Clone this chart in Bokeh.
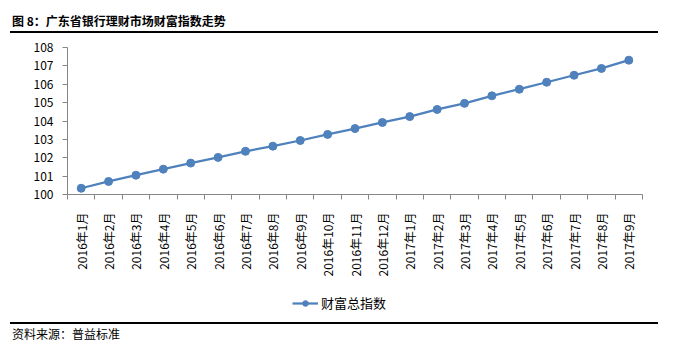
from math import pi
from bokeh.plotting import figure
from bokeh.models import Range1d, FixedTicker, Legend, LegendItem, ColumnDataSource, Div
from bokeh.layouts import column
from bokeh.embed import file_html
from bokeh.resources import INLINE

# ---- data ----
months = ["2016年1月", "2016年2月", "2016年3月", "2016年4月", "2016年5月", "2016年6月",
          "2016年7月", "2016年8月", "2016年9月", "2016年10月", "2016年11月", "2016年12月",
          "2017年1月", "2017年2月", "2017年3月", "2017年4月", "2017年5月", "2017年6月",
          "2017年7月", "2017年8月", "2017年9月"]
wealth_index = [100.34, 100.71, 101.05, 101.38, 101.71, 102.02, 102.35, 102.63, 102.94,
                103.27, 103.59, 103.92, 104.24, 104.63, 104.96, 105.37, 105.73, 106.11,
                106.49, 106.86, 107.31]
y_ticks = [100, 101, 102, 103, 104, 105, 106, 107, 108]
series_name = "财富总指数"
title_text = "图 8：广东省银行理财市场财富指数走势"
source_text = "资料来源：普益标准"

FONT = "Noto Sans CJK SC"
BLUE = "#4F81BD"
AXIS_GRAY = "#868686"
W = 658


def style_line(fig, source):
    ln = fig.line("x", "y", source=source, line_color=BLUE, line_width=2.25)
    pt = fig.scatter("x", "y", source=source, size=8, color=BLUE)
    return ln, pt


# ---- header (title + rule) ----
hdr_html = (
    f'<div style="position:relative;width:{W}px;height:36px;font-family:\'{FONT}\';">'
    f'<div style="position:absolute;left:12px;top:12px;font-size:12px;line-height:18px;'
    f'font-weight:bold;color:#000;white-space:nowrap;">{title_text}</div>'
    f'<div style="position:absolute;left:10px;width:{W - 10}px;top:31px;height:0;'
    f'border-top:2px solid #000;"></div></div>'
)
hdr = Div(text=hdr_html, width=W, height=36, margin=0)

# ---- main chart ----
xs = list(range(len(months)))
src = ColumnDataSource(dict(x=xs, y=wealth_index))

p = figure(width=W, height=246, x_range=Range1d(-0.5, len(months) - 0.5),
           y_range=Range1d(y_ticks[0], y_ticks[-1]), toolbar_location=None,
           output_backend="svg", min_border_left=67, min_border_right=16,
           min_border_top=11, min_border_bottom=88)
p.outline_line_color = None
p.grid.visible = False
style_line(p, src)

xa = p.xaxis[0]
xa.ticker = FixedTicker(ticks=xs, minor_ticks=[i - 0.5 for i in range(len(months) + 1)])
xa.major_label_overrides = {i: m for i, m in enumerate(months)}
xa.major_label_orientation = pi / 2
xa.major_tick_line_color = None
xa.major_tick_out = 0
xa.major_tick_in = 0
xa.minor_tick_out = 5
xa.minor_tick_in = 0
xa.minor_tick_line_color = AXIS_GRAY
xa.axis_line_color = AXIS_GRAY
xa.major_label_standoff = 13
xa.major_label_text_font = FONT
xa.major_label_text_font_size = "12px"
xa.major_label_text_color = "#000000"

ya = p.yaxis[0]
ya.ticker = FixedTicker(ticks=y_ticks)
ya.major_tick_out = 5
ya.major_tick_in = 0
ya.minor_tick_line_color = None
ya.major_tick_line_color = AXIS_GRAY
ya.axis_line_color = AXIS_GRAY
ya.major_label_standoff = 9
ya.major_label_text_font = FONT
ya.major_label_text_font_size = "12px"
ya.major_label_text_color = "#000000"

# ---- legend strip (same series, drawn outside this strip's visible range) ----
lp = figure(width=W, height=33, x_range=Range1d(0, 1), y_range=Range1d(0, 1),
            x_axis_type=None, y_axis_type=None, toolbar_location=None,
            output_backend="svg", min_border_left=67, min_border_right=16,
            min_border_top=0, min_border_bottom=0)
lp.outline_line_color = None
lp.grid.visible = False
l_ln, l_pt = style_line(lp, src)
legend = Legend(items=[LegendItem(label=series_name, renderers=[l_ln, l_pt])],
                location=(225, 3), orientation="horizontal",
                glyph_width=26, glyph_height=14, label_standoff=3, padding=4,
                margin=0, border_line_color=None, background_fill_alpha=0,
                label_text_font=FONT, label_text_font_size="13px",
                label_text_color="#000000")
lp.add_layout(legend, "center")

# ---- footer (rule + source) ----
ftr_html = (
    f'<div style="position:relative;width:{W}px;height:31px;font-family:\'{FONT}\';">'
    f'<div style="position:absolute;left:10px;width:{W - 10}px;top:7px;height:0;'
    f'border-top:2px solid #000;"></div>'
    f'<div style="position:absolute;left:12px;top:11px;font-size:12px;line-height:16px;'
    f'color:#000;white-space:nowrap;">{source_text}</div></div>'
)
ftr = Div(text=ftr_html, width=W, height=31, margin=0)

layout = column(hdr, p, lp, ftr, spacing=0)
open("out.html", "w").write(file_html(layout, INLINE))
